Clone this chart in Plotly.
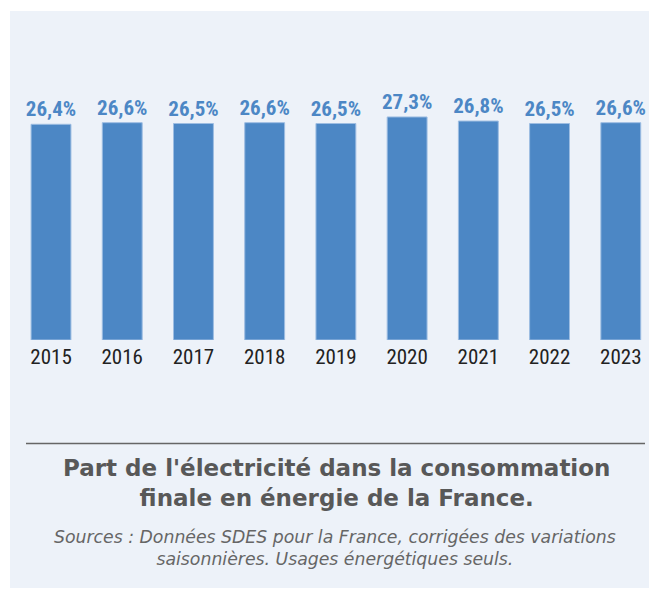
import plotly.graph_objects as go

years = ["2015", "2016", "2017", "2018", "2019", "2020", "2021", "2022", "2023"]
shares = [26.4, 26.6, 26.5, 26.6, 26.5, 27.3, 26.8, 26.5, 26.6]
title_lines = ["Part de l'électricité dans la consommation", "finale en énergie de la France."]
source_lines = ["Sources : Données SDES pour la France, corrigées des variations",
                "saisonnières. Usages énergétiques seuls."]

# page body has an 8px margin, so the figure is drawn 8px in from the window edges
OFF = 8
W, H = 657 - OFF, 590 - OFF
BAR = "#4c87c5"
labels = [f"{v:.1f}".replace(".", ",") + "%" for v in shares]

COND = "Roboto Condensed, Liberation Sans Narrow, Roboto"

fig = go.Figure(go.Bar(
    x=years, y=shares, text=labels, textposition="outside", constraintext="none",
    textfont=dict(family=COND, size=21, color=BAR, weight=700),
    marker=dict(color=BAR, line=dict(color="#9dbde2", width=1)),
    cliponaxis=False, hoverinfo="skip",
))


def px(x):
    return (x - OFF) / W


def py(y):
    return 1 - (y - OFF) / H


fig.update_layout(
    width=W, height=H, margin=dict(l=0, r=0, t=0, b=0),
    paper_bgcolor="white", plot_bgcolor="rgba(0,0,0,0)",
    showlegend=False, bargap=0.44,
    xaxis=dict(domain=[px(15.4), px(656.4)], type="category", showgrid=False, zeroline=False,
               showline=False, ticks="", ticklabelstandoff=2,
               tickfont=dict(family=COND, size=21, color="#222")),
    yaxis=dict(domain=[py(340), py(340 - 40 * 8.17)], range=[0, 40], visible=False),
    shapes=[
        dict(type="rect", xref="paper", yref="paper", x0=px(10), x1=1, y0=py(588), y1=py(11),
             fillcolor="#edf2f9", line=dict(width=0), layer="below"),
        dict(type="line", xref="paper", yref="paper", x0=px(26), x1=px(645), y0=py(443.5), y1=py(443.5),
             line=dict(color="#666666", width=1.5)),
    ],
    annotations=[
        dict(xref="paper", yref="paper", x=px(336), y=py(483), xanchor="center", yanchor="middle",
             text="<br>".join(title_lines), showarrow=False, align="center",
             font=dict(family="DejaVu Sans, sans-serif", size=23, color="#585858", weight=700)),
        dict(xref="paper", yref="paper", x=px(335), y=py(547.5), xanchor="center", yanchor="middle",
             text="<br>".join(source_lines), showarrow=False, align="center",
             font=dict(family="DejaVu Sans, sans-serif", size=17.3, color="#666666", style="italic")),
    ],
)

fig.write_html("out.html")
